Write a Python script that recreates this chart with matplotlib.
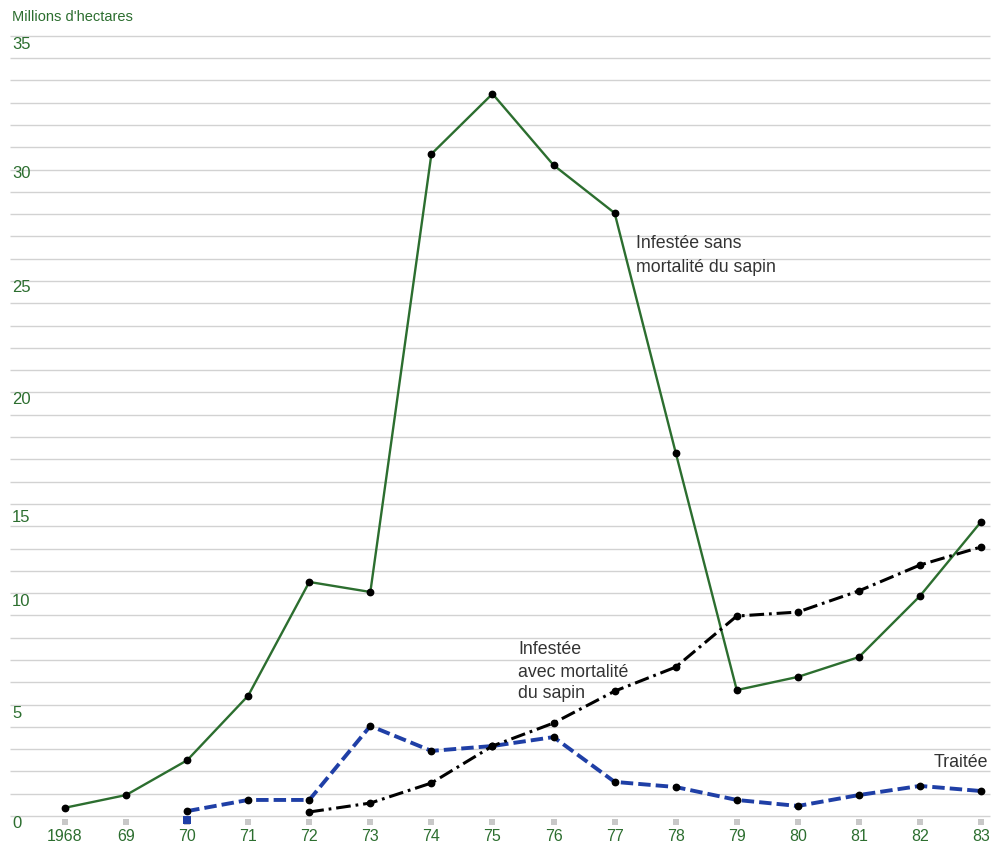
import numpy as np
import matplotlib
matplotlib.use("Agg")
from matplotlib import pyplot as plt

plt.rcParams['font.family'] = ['Liberation Sans', 'DejaVu Sans']

# data, millions of hectares
years = list(range(1968, 1984))
sans_mortalite = [0.37, 0.94, 2.5, 5.4, 10.5, 10.05, 29.7, 32.4, 29.2, 27.05,
                  16.3, 5.65, 6.24, 7.13, 9.87, 13.2]
years_traitee = list(range(1970, 1984))
traitee = [0.22, 0.72, 0.72, 4.04, 2.92, 3.14, 3.54, 1.53, 1.3, 0.72, 0.45,
           0.94, 1.35, 1.12]
years_avec = list(range(1972, 1984))
avec_mortalite = [0.18, 0.58, 1.48, 3.14, 4.17, 5.6, 6.68, 8.97, 9.15, 10.1,
                  11.26, 12.07]
year_labels = ['1968', '69', '70', '71', '72', '73', '74', '75', '76', '77',
               '78', '79', '80', '81', '82', '83']
y_labels = [0, 5, 10, 15, 20, 25, 30, 35]

GREEN = '#2c6e2f'
BLUE = '#1f3fa6'
TXT = '#333333'

# pixel layout of the printed chart
px_x0, px_year = 65, 61.07
px_y0, px_unit = 816, 22.29


def dx(px):
    return 1968 + (px - px_x0) / px_year


def dy(py):
    return (px_y0 - py) / px_unit


fig = plt.figure(figsize=(9.93, 8.46), dpi=100)
ax = fig.add_axes([0, 0, 1, 1])
ax.set_xlim(dx(0), dx(993))
ax.set_ylim(dy(846), dy(0))
ax.axis('off')

# ruled lines
ax.hlines(np.arange(0, 36), dx(10), dx(990), color='#d2d2d2', lw=1.0, zorder=1)

# small tick squares under the baseline
ax.scatter(years, [dy(822)] * len(years), marker='s', s=14, color='#c8c8c8',
           zorder=2, linewidths=0)
ax.scatter([1970], [dy(820)], marker='s', s=30, color=BLUE, zorder=3, linewidths=0)

ax.plot(years, sans_mortalite, color=GREEN, lw=1.7, zorder=4)
ax.plot(years_traitee, traitee, color=BLUE, lw=2.8, dashes=(3.2, 1.3), zorder=4)
ax.plot(years_avec, avec_mortalite, color='black', lw=2.2,
        dashes=(4.8, 1.6, 0.9, 1.6), zorder=5)
for xs, ys in [(years, sans_mortalite), (years_traitee, traitee),
               (years_avec, avec_mortalite)]:
    ax.plot(xs, ys, 'o', color='black', ms=4.6, zorder=6)

# axis labels
for y, lab in zip(years, year_labels):
    ax.text(y, dy(836), lab, color=GREEN, fontsize=11.5, ha='center', va='center')
label_py = [823, 714, 602, 518, 400, 288, 174, 45]
for v, py in zip(y_labels, label_py):
    ax.text(dx(12), dy(py), str(v), color=GREEN, fontsize=12, ha='left',
            va='center')
ax.text(dx(12), dy(17), "Millions d'hectares", color=GREEN, fontsize=10.5,
        ha='left', va='center')

# series labels
fs = 12.8
ax.text(dx(636), dy(244), 'Infestée sans', color=TXT, fontsize=fs,
        ha='left', va='center')
ax.text(dx(636), dy(268), 'mortalité du sapin', color=TXT, fontsize=fs,
        ha='left', va='center')
ax.text(dx(518), dy(650), 'Infestée', color=TXT, fontsize=fs, ha='left', va='center')
ax.text(dx(518), dy(672), 'avec mortalité', color=TXT, fontsize=fs, ha='left',
        va='center')
ax.text(dx(518), dy(694), 'du sapin', color=TXT, fontsize=fs, ha='left', va='center')
ax.text(dx(988), dy(762), 'Traitée', color=TXT, fontsize=fs, ha='right', va='center')

fig.savefig('out.png', dpi=100)
